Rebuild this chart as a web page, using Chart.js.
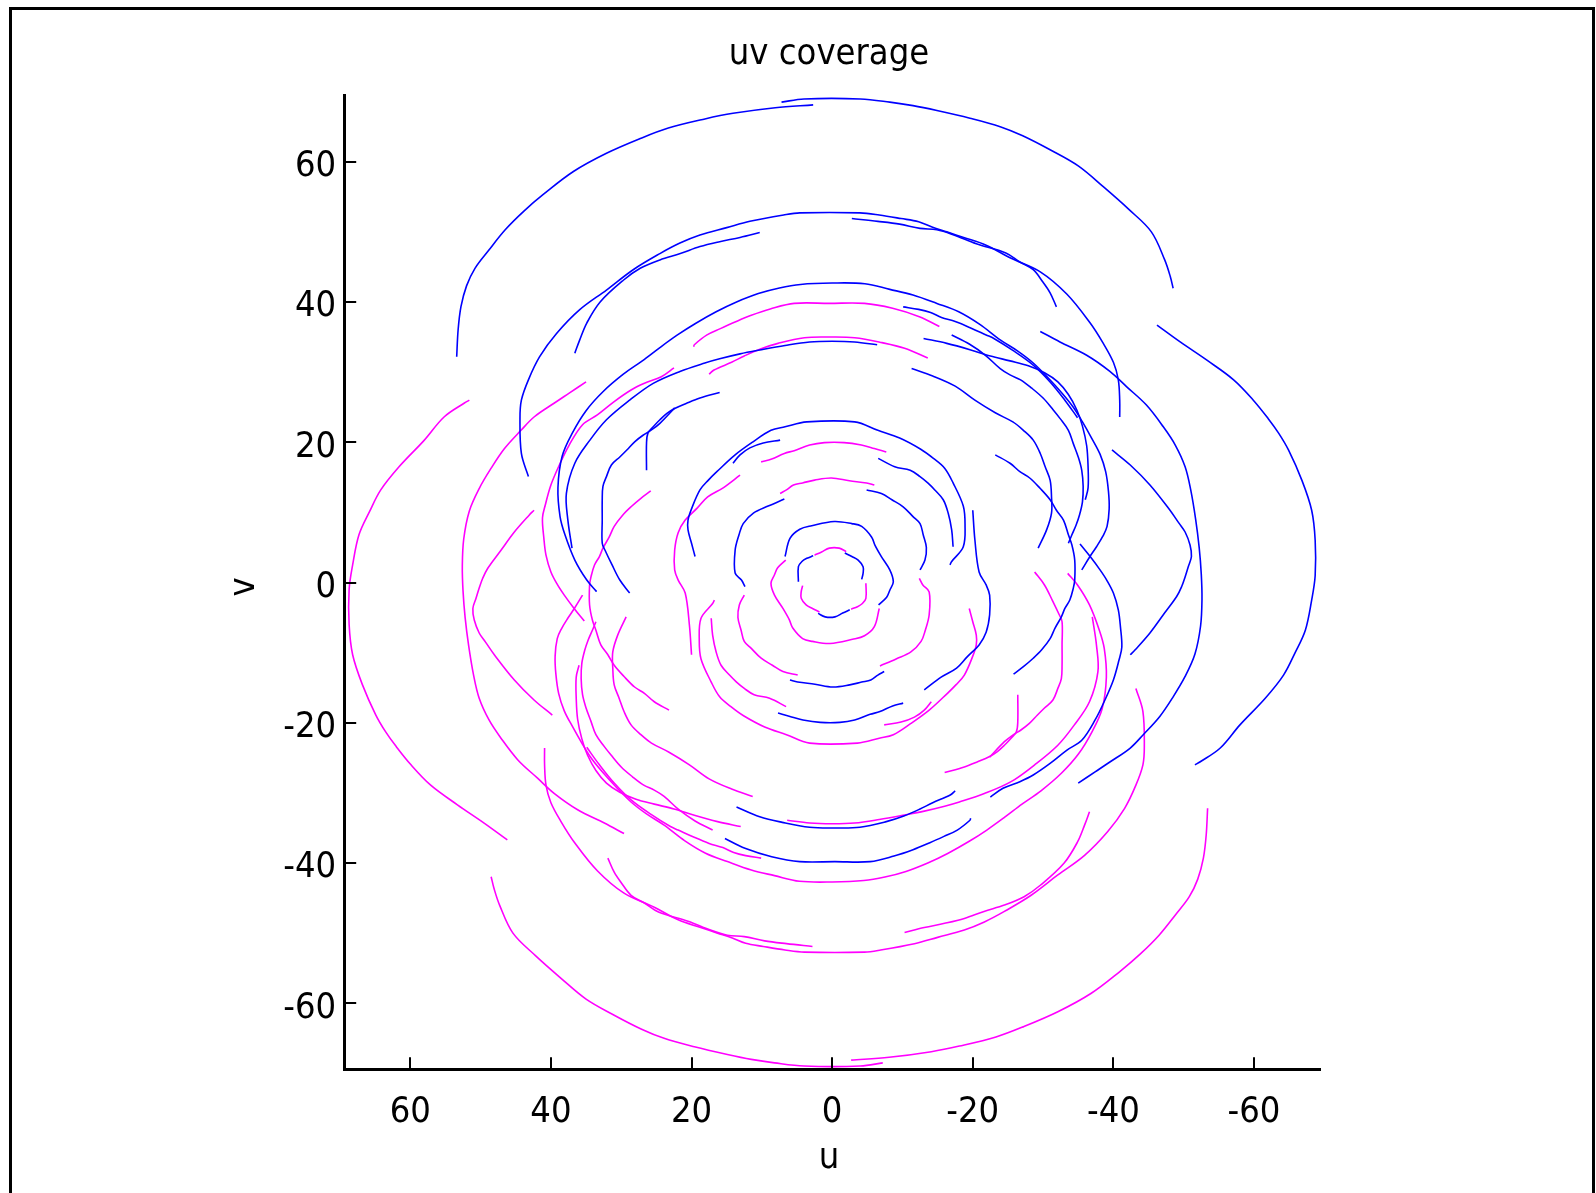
<!DOCTYPE html>
<html>
<head>
<meta charset="utf-8">
<title>uv coverage</title>
<script src="https://cdn.jsdelivr.net/npm/chart.js@4.4.1/dist/chart.umd.min.js"></script>
<style>
  html, body { margin: 0; padding: 0; background: #ffffff; }
  #wrap { width: 1596px; height: 1193px; position: relative; }
  canvas { display: block; }
</style>
</head>
<body>
<div id="wrap"><canvas id="uv" width="1596" height="1193"></canvas></div>
<script>
// Baseline tracks in the uv plane, as flat [u, v, u, v, ...] lists.
// Each baseline also samples its conjugate point (-u, -v), drawn in magenta.
const trackA1 = [53.4,32.2, 53.2,36.0, 52.8,39.3, 52.0,42.3, 50.8,44.8, 48.9,47.3, 46.5,50.3, 43.8,53.0, 41.0,55.4, 36.8,58.6, 32.1,61.2, 27.3,63.3, 23.3,64.8, 18.1,66.1, 14.1,66.9, 8.1,67.7, 2.7,68.1];
const trackA2 = [7.2,68.5, 4.0,68.95, -4.0,68.95, -8.2,68.5, -11.5,68.0, -14.9,67.3, -19.6,66.2, -23.9,65.0, -27.1,63.7, -31.0,61.7, -35.0,59.4, -38.6,56.4, -42.2,53.2, -45.4,50.0, -47.3,46.0, -48.1,43.6, -48.5,41.95];
const trackB  = [-46.2,36.7, -49.5,34.3, -53.3,31.7, -57.1,28.9, -59.9,26.0, -62.0,23.4, -63.5,21.3, -64.9,18.9, -66.8,14.6, -68.2,10.3, -68.7,6.0, -68.7,1.0, -68.2,-2.5, -67.3,-6.8, -65.8,-10.1, -64.2,-13.2, -61.6,-16.5, -58.0,-20.3, -55.2,-23.6, -52.3,-25.6, -51.6,-26.0];
const trackC1 = [43.2,15.1, 44.2,18.4, 44.4,23.4, 44.2,26.0, 43.2,28.9, 41.6,32.2, 39.2,35.5, 35.9,38.9, 32.1,41.7, 28.3,44.6, 24.5,46.9, 21.65,48.4, 18.8,49.55, 15.0,50.6, 11.7,51.5, 6.9,52.4, 4.6,52.7, -3.95,52.7, -6.7,52.4, -9.8,51.9, -12.3,51.45, -14.2,50.7, -16.3,50.0, -18.7,49.2, -21.9,48.1, -25.3,46.3, -29.6,44.3, -33.4,41.1, -36.7,37.0, -38.5,34.2, -40.0,31.4, -40.7,28.9, -40.9,26.0, -40.9,23.6];
const trackC2 = [36.6,32.7, 35.9,34.6, 34.9,37.0, 33.0,40.0, 29.7,43.1, 27.3,44.8, 24.5,46.0, 21.6,46.9, 18.8,47.9, 16.0,48.6, 13.1,49.2, 10.3,49.9];
const trackC3 = [-2.8,51.9, -6.5,51.5, -9.6,51.1, -12.5,50.5, -14.9,50.3, -17.2,49.6, -20.5,48.3, -24.7,47.0, -26.7,45.7, -28.6,44.6, -30.0,42.8, -31.0,41.3, -31.9,39.3];
const trackD  = [33.5,-1.3, 34.9,0.35, 36.6,3.2, 38.0,6.8, 38.7,9.4, 39.0,13.5, 38.4,18.0, 36.9,21.4, 35.0,24.5, 32.6,27.2, 29.7,29.7, 27.0,31.6, 24.5,33.5, 22.0,35.3, 19.5,36.9, 16.5,38.6, 13.6,40.0, 10.5,41.2, 7.5,42.0, 4.5,42.5, 0.0,42.7, -4.65,42.6, -8.2,41.8, -11.5,41.0, -14.9,39.8, -18.0,38.6, -21.0,36.8, -23.9,34.6, -26.4,33.0, -28.6,31.3, -30.7,29.2, -32.7,27.0, -34.3,25.0, -35.6,22.9, -36.9,20.6, -38.1,18.3, -38.9,15.8, -39.3,13.0, -39.4,10.5, -39.1,8.0, -38.5,6.6, -37.6,5.1, -36.6,3.6, -35.5,1.8];
const trackD2 = [-10.1,39.3, -12.3,38.95, -14.0,38.5, -15.55,37.8, -17.5,37.2, -19.7,36.3, -21.9,35.3, -23.0,34.8, -25.7,33.1, -28.6,31.0, -31.0,28.6, -33.1,26.0, -34.9,23.5];
const trackE1 = [-6.4,33.9, -3.2,34.3, 0.0,34.4, 3.2,34.3, 6.7,33.8, 10.3,33.15, 13.1,32.6, 16.0,31.9, 18.1,31.3, 21.65,30.1, 25.45,28.4, 28.8,26.0, 32.1,23.2, 34.45,20.3, 36.6,17.0, 37.8,12.7, 37.6,9.0, 37.0,4.9];
const trackE2 = [16.0,27.1, 18.8,26.3, 20.7,25.55, 22.4,24.8, 23.5,24.1, 24.5,23.2, 25.45,22.2, 26.2,21.3, 26.4,19.9, 26.4,16.0];
const trackE3 = [22.4,24.9, 24.5,22.7, 25.7,21.75, 26.9,21.0, 28.05,20.1, 29.2,18.9, 30.2,17.9, 31.4,16.75, 32.1,15.1, 32.6,13.7, 32.7,11.8, 32.7,8.9, 32.7,5.6, 32.3,4.6, 31.3,2.5, 30.2,0.35, 28.8,-1.5];
const trackF  = [-29.6,35.8, -32.4,34.3, -36.2,32.4, -39.5,30.1, -41.9,27.9, -44.7,25.3, -47.1,22.2, -48.8,19.6, -50.2,16.5, -51.0,13.2, -51.7,9.0, -52.2,5.0, -52.5,1.2, -52.6,-2.4, -52.4,-6.2, -51.6,-10.2, -50.2,-13.4, -48.5,-16.3, -46.6,-19.1, -44.25,-21.7, -42.4,-23.6, -39.5,-25.6, -37.4,-27.0, -35.0,-28.6];
const trackG  = [-39.8,18.9, -42.4,16.75, -45.2,13.9, -48.05,10.3, -49.3,8.5, -50.2,7.2, -50.9,5.35, -51.1,3.7, -50.65,2.25, -50.2,0.8, -49.7,-0.6, -49.0,-2.0, -47.1,-4.6, -45.2,-7.2, -43.1,-9.6, -42.4,-10.3];
const trackH  = [-11.3,30.5, -14.3,29.45, -17.5,28.0, -20.3,26.0, -23.2,24.2, -25.7,22.9, -27.2,21.7, -28.6,20.3, -29.6,18.4, -30.3,16.5, -31.0,14.6, -31.2,12.2, -31.2,9.9, -30.5,7.5, -29.3,4.9];
const trackI  = [-35.25,5.5, -36.7,3.7, -38.1,1.8, -39.05,0.35, -40.0,-1.5, -40.7,-3.9, -41.0,-6.3, -41.2,-9.2, -40.8,-11.05, -40.0,-13.9, -38.8,-16.75, -37.4,-19.6, -35.5,-22.5, -33.4,-23.9, -31.0,-25.8, -28.6,-27.45, -26.7,-28.4, -24.3,-29.35, -22.5,-30.6];
const trackK  = [-23.2,18.2, -25.3,17.0, -26.7,15.8, -28.1,14.9, -29.6,13.4, -31.0,11.8, -31.9,10.3, -32.9,8.9, -33.6,6.8, -34.1,5.35, -34.5,3.2, -34.5,0.35, -34.3,-0.8, -33.8,-2.5, -33.1,-3.7, -32.6,-4.9, -31.7,-6.5, -31.0,-8.0, -29.8,-9.6, -28.6,-10.8, -27.2,-12.0, -25.8,-13.05];
const trackL  = [-17.0,35.3, -19.5,34.0, -21.8,32.4, -23.9,30.5, -25.3,29.6, -26.8,28.9, -28.4,27.7, -30.0,26.3, -31.45,24.6, -32.4,23.4, -33.6,21.7, -34.3,19.8, -35.0,17.9, -35.5,16.0, -35.7,13.7, -35.6,11.5, -35.2,9.7, -34.7,8.2, -34.1,6.8, -33.6,5.6];
const trackM  = [-13.0,34.8, -16.3,34.1, -19.6,33.2, -22.5,32.3, -25.3,31.6, -27.9,30.9, -30.2,29.9, -32.1,28.6, -33.6,26.8, -34.8,24.6, -35.6,22.3, -36.2,19.5, -36.4,16.5, -36.4,13.5, -36.0,11.8];
const trackJ1 = [15.25,-36.5, 12.4,-37.9, 8.6,-39.1, 4.6,-39.8, -0.4,-39.8, -5.4,-39.8, -8.8,-39.0, -11.5,-38.1, -13.9,-37.1, -15.9,-36.2, -17.8,-35.3, -19.6,-33.9, -19.7,-33.6];
const trackJ2 = [13.6,-32.0, 10.3,-33.4, 7.1,-34.2, 3.2,-34.9, -0.4,-35.0, -3.95,-34.9, -7.7,-34.1, -10.2,-33.3, -12.5,-32.3, -14.3,-31.4, -16.8,-30.3, -17.5,-29.7];
const trackR1a = [4.8,0.1, 4.8,2.25, 4.3,3.0, 3.6,3.45, 2.7,3.8];
const trackR1b = [-1.8,4.2, -2.8,3.7, -3.7,3.2, -4.4,2.25, -4.4,1.3, -4.2,0.45];
const trackR1c = [2.0,-4.4, 1.0,-4.9, -0.4,-4.9, -1.5,-4.35, -2.5,-3.9];
const trackR2  = [6.7,3.7, 6.0,6.3, 4.6,7.6, 2.9,8.1, -0.3,8.7, -2.8,8.4, -4.2,8.0, -5.6,6.5, -6.1,5.3, -7.0,3.7, -8.2,1.8, -8.7,0.1, -8.2,-1.1, -7.75,-2.1, -6.6,-3.2];
const trackR3  = [19.5,3.7, 20.0,5.6, 20.5,7.5, 20.5,8.9, 20.0,10.5, 18.8,13.2, 17.6,14.6, 16.4,15.8, 13.8,18.2, 11.2,20.1, 8.7,21.7, 6.7,22.2, 3.6,22.9, -3.2,22.9, -6.5,21.7, -9.6,20.6, -12.6,19.0, -14.4,17.7, -16.0,16.3, -17.2,14.2, -18.65,10.9, -18.9,8.2, -18.65,5.1, -17.0,3.0, -16.75,2.5];
const trackR3b = [-6.55,17.7, -8.9,16.5, -11.1,16.0, -12.5,15.1, -13.6,14.2, -14.6,13.2, -15.8,11.8, -16.5,9.9, -17.0,7.5, -17.2,5.1];
const trackR4a = [6.8,11.9, 9.1,10.9, 11.2,9.9, 12.65,8.4, 13.25,6.8, 13.8,4.6, 13.8,1.35, 12.9,0.35, 12.4,-0.6];
const trackR4b = [-4.9,13.2, -7.0,12.7, -8.5,11.8, -10.1,10.8, -11.5,9.4, -12.5,8.4, -12.95,6.8, -13.4,5.0, -13.2,3.2, -12.5,1.8];
const trackR5  = [6.0,-13.9, 4.9,-14.2, 2.45,-14.5, -0.1,-14.9, -2.5,-14.6, -4.2,-14.2, -5.5,-13.9, -6.5,-13.2, -7.4,-12.7];
const trackR6  = [7.7,-18.6, 6.0,-19.1, 4.15,-19.6, 1.7,-19.95, -1.1,-19.95, -3.2,-19.6, -5.4,-18.8, -6.8,-18.4, -8.6,-17.6, -10.1,-17.2];
const trackR6b = [14.1,17.0, 13.1,18.2, 11.7,19.2, 9.8,19.9, 7.4,20.3];
const trackR7  = [-20.0,10.3, -20.3,6.1, -20.9,1.5, -21.9,-0.35, -22.4,-1.8, -22.4,-4.6, -21.9,-7.1, -20.9,-8.9, -19.2,-10.6, -17.7,-12.2, -15.5,-13.5, -13.1,-15.3];

const blueTracks = [trackA1, trackA2, trackB, trackC1, trackC2, trackC3, trackD, trackD2,
                    trackE1, trackE2, trackE3, trackF, trackG, trackH, trackI, trackK,
                    trackL, trackM, trackJ1, trackJ2, trackR1a, trackR1b, trackR1c,
                    trackR2, trackR3, trackR3b, trackR4a, trackR4b, trackR5, trackR6,
                    trackR6b, trackR7];

// Axis ticks and limits
const tickValues = [-60, -40, -20, 0, 20, 40, 60];
const axisLimit = 69.4;

const BLUE = '#0000ff';
const MAGENTA = '#ff00ff';
const FONT = "'DejaVu Sans Condensed', 'DejaVu Sans', sans-serif";

function toPoints(flat, sign) {
  const pts = [];
  for (let i = 0; i < flat.length; i += 2) pts.push({ x: sign * flat[i], y: sign * flat[i + 1] });
  return pts;
}

const datasets = [];
blueTracks.forEach(t => datasets.push({ data: toPoints(t, 1), borderColor: BLUE }));
blueTracks.forEach(t => datasets.push({ data: toPoints(t, -1), borderColor: MAGENTA }));
datasets.forEach(d => Object.assign(d, {
  showLine: true, fill: false, pointRadius: 0, pointHoverRadius: 0,
  borderWidth: 1.6, tension: 0.35
}));

// Frame, title, axis names and inward tick marks
const decorations = {
  id: 'decorations',
  afterDraw(chart) {
    const ctx = chart.ctx;
    const xs = chart.scales.x, ys = chart.scales.y;
    ctx.save();
    ctx.strokeStyle = '#000';
    ctx.lineWidth = 3;
    ctx.beginPath();
    ctx.moveTo(10.5, 1193); ctx.lineTo(10.5, 8.5); ctx.lineTo(1593.5, 8.5); ctx.lineTo(1593.5, 1193);
    ctx.stroke();

    ctx.lineWidth = 2;
    ctx.beginPath();
    tickValues.forEach(v => {
      const px = Math.round(xs.getPixelForValue(v));
      ctx.moveTo(px, chart.chartArea.bottom); ctx.lineTo(px, chart.chartArea.bottom - 12);
      const py = Math.round(ys.getPixelForValue(v));
      ctx.moveTo(chart.chartArea.left, py); ctx.lineTo(chart.chartArea.left + 12, py);
    });
    ctx.stroke();

    ctx.fillStyle = '#000';
    ctx.font = '36px ' + FONT;
    ctx.textAlign = 'center';
    ctx.textBaseline = 'alphabetic';
    ctx.fillText('uv coverage', 829, 64);
    ctx.fillText('u', 829, 1168);
    ctx.translate(254, 587);
    ctx.rotate(-Math.PI / 2);
    ctx.fillText('v', 0, 0);
    ctx.restore();
  }
};

new Chart(document.getElementById('uv'), {
  type: 'scatter',
  data: { datasets },
  options: {
    responsive: false,
    animation: false,
    devicePixelRatio: 1,
    layout: { padding: { left: 244.2, right: 275.9, top: 95.8, bottom: 63.8 } },
    plugins: { legend: { display: false }, tooltip: { enabled: false }, title: { display: false } },
    scales: {
      x: {
        type: 'linear', reverse: true, min: -axisLimit, max: axisLimit,
        grid: { display: false, drawTicks: false },
        border: { display: true, color: '#000', width: 3 },
        ticks: { color: '#000', font: { family: FONT, size: 36 }, padding: 22, maxRotation: 0 },
        afterBuildTicks: s => { s.ticks = tickValues.map(v => ({ value: v })); },
        afterFit: s => { s.height = 60; }
      },
      y: {
        type: 'linear', min: -axisLimit, max: axisLimit,
        grid: { display: false, drawTicks: false },
        border: { display: true, color: '#000', width: 3 },
        ticks: { color: '#000', font: { family: FONT, size: 36 }, padding: 8, labelOffset: 5 },
        afterBuildTicks: s => { s.ticks = tickValues.map(v => ({ value: v })); },
        afterFit: s => { s.width = 100; }
      }
    }
  },
  plugins: [decorations]
});
</script>
</body>
</html>
